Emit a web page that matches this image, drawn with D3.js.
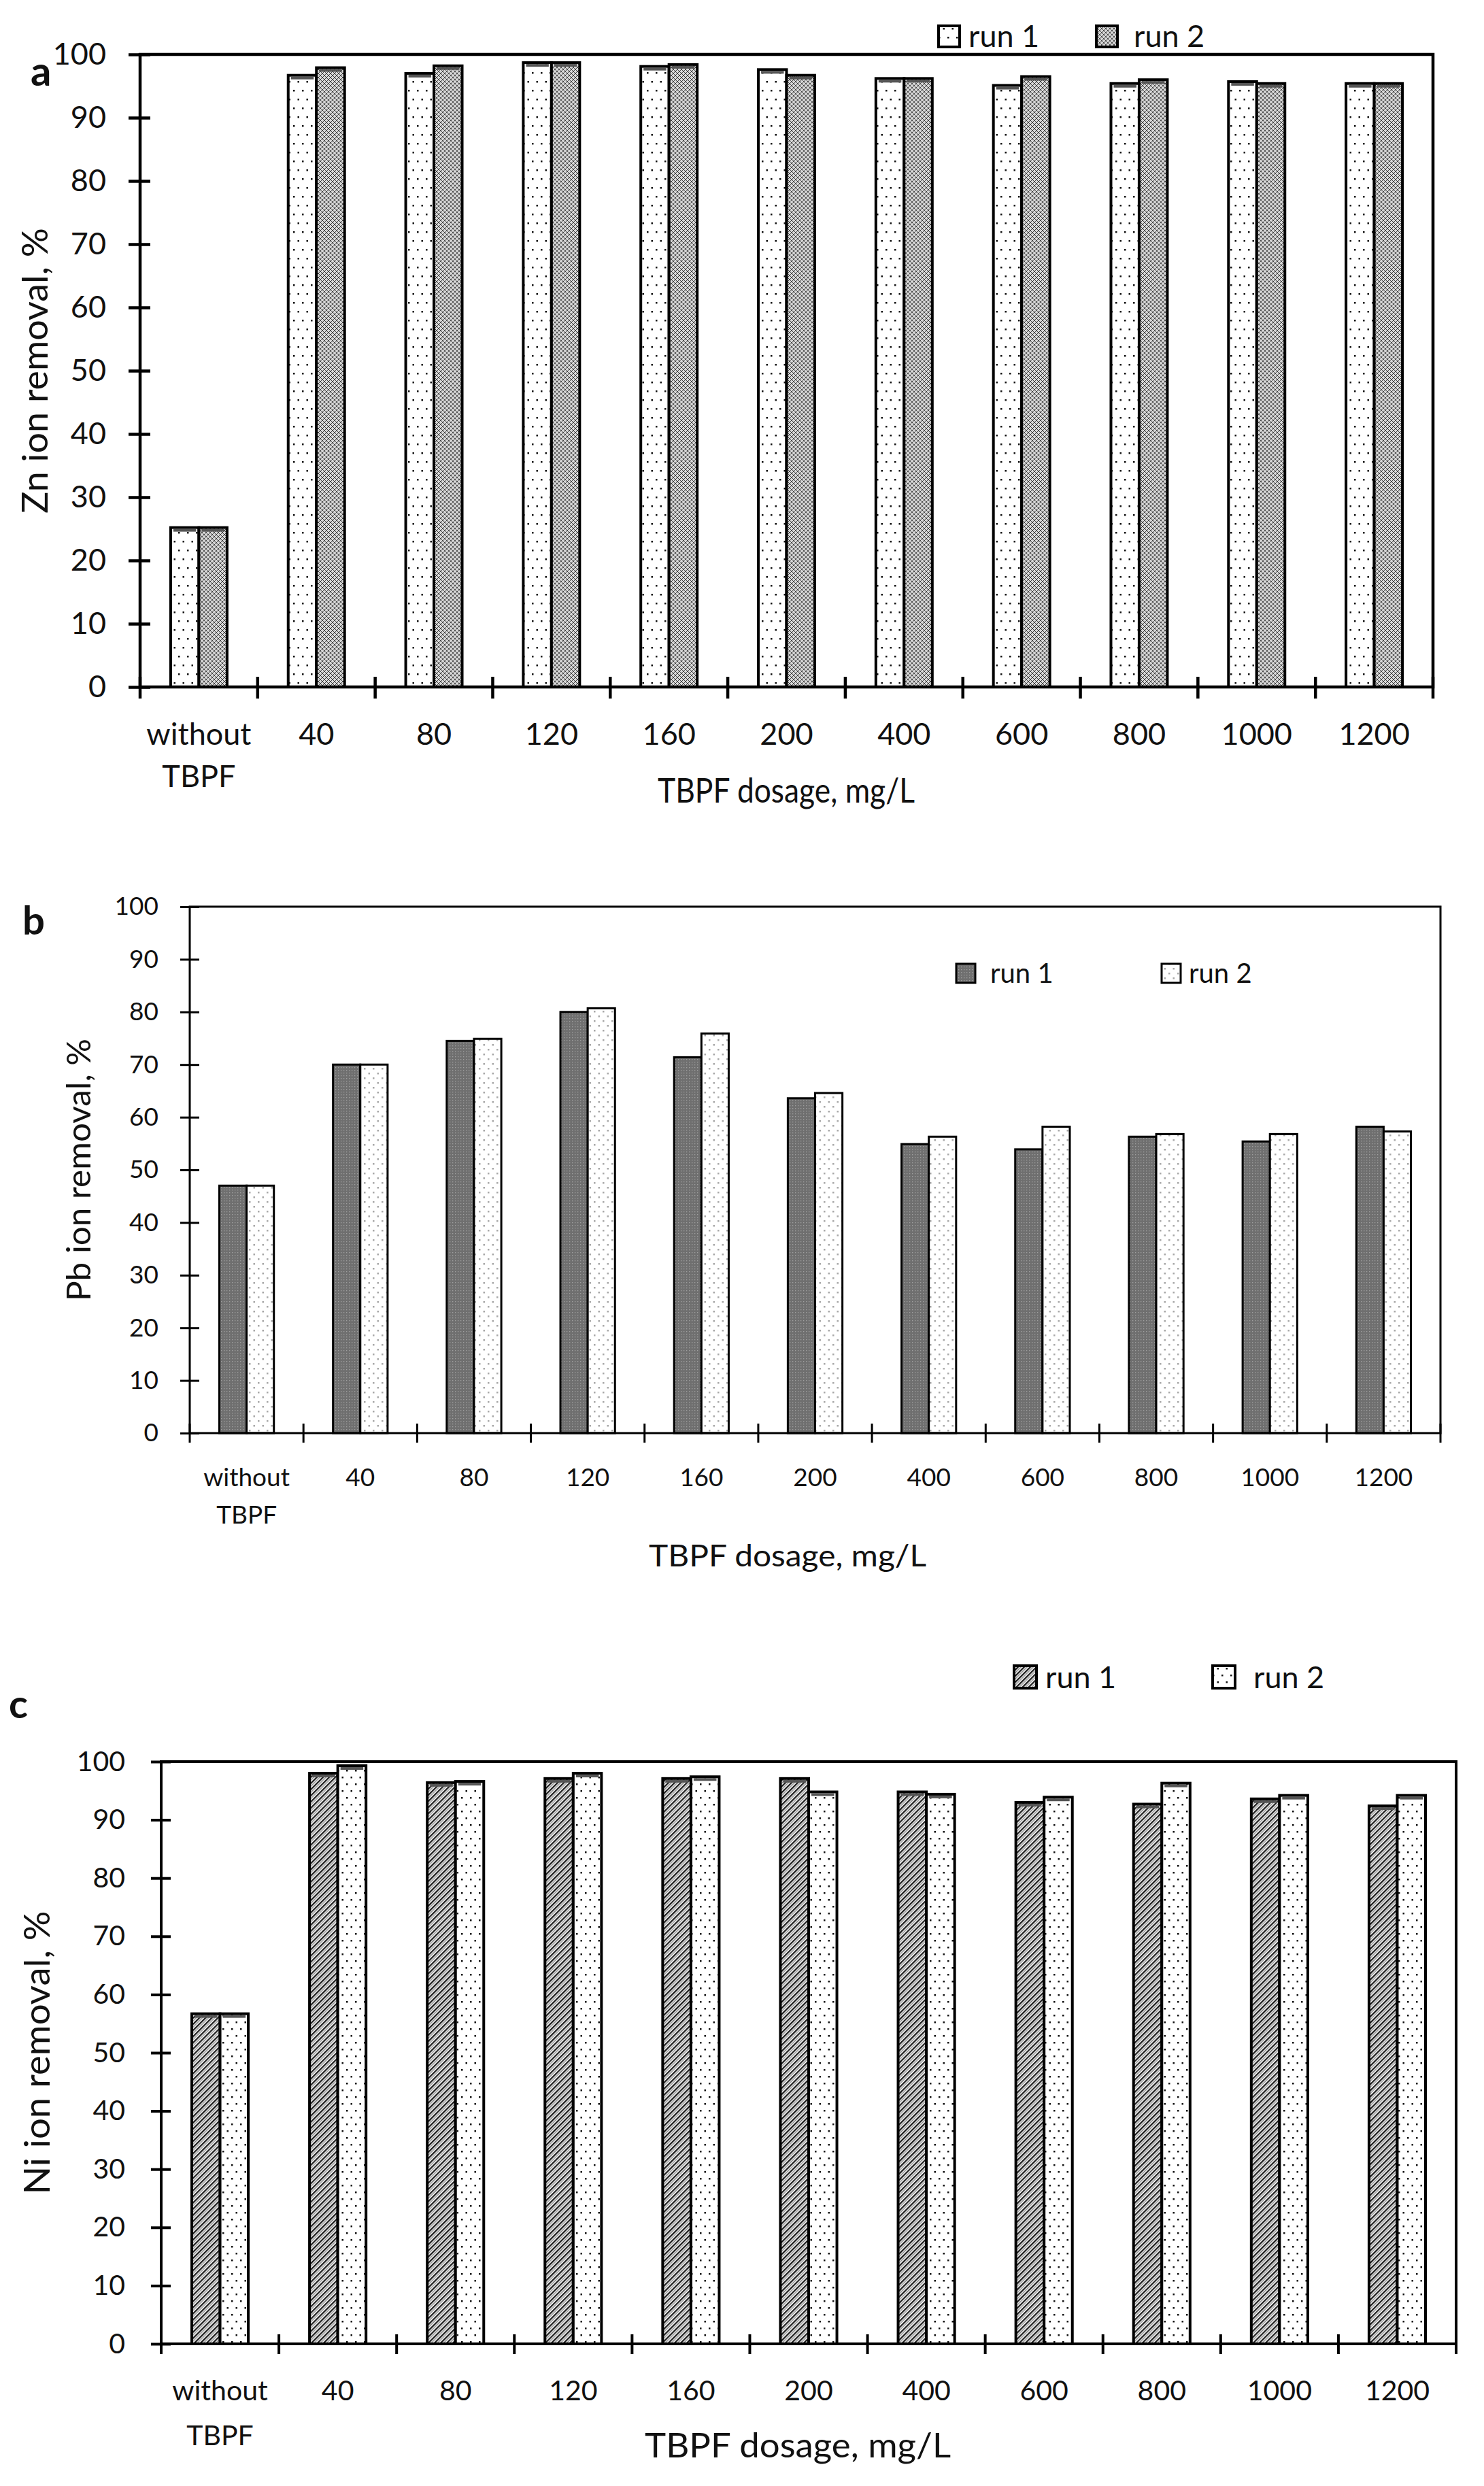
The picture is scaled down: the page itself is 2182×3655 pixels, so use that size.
<!DOCTYPE html>
<html>
<head>
<meta charset="utf-8">
<script src="https://cdn.jsdelivr.net/npm/d3@7"></script>
<style>
  body { margin: 0; background: #fff; }
  svg text { font-family: Lato, "Open Sans", sans-serif; fill: #111; }
</style>
</head>
<body>
<script>
// categories and tick values shared by the three panels
var categories = ["without TBPF", "40", "80", "120", "160", "200", "400", "600", "800", "1000", "1200"];
var yTicks = [0, 10, 20, 30, 40, 50, 60, 70, 80, 90, 100];
var seriesNames = ["run 1", "run 2"];

// (a) Zn
var znRun1 = [25.2, 96.7, 97.0, 98.7, 98.1, 97.6, 96.2, 95.1, 95.4, 95.7, 95.4];
var znRun2 = [25.2, 97.9, 98.2, 98.7, 98.4, 96.7, 96.2, 96.5, 96.0, 95.4, 95.4];
// (b) Pb
var pbRun1 = [47.0, 70.0, 74.5, 80.0, 71.4, 63.6, 54.9, 53.9, 56.3, 55.4, 58.2];
var pbRun2 = [47.0, 70.0, 74.9, 80.7, 75.9, 64.6, 56.3, 58.2, 56.8, 56.8, 57.3];
// (c) Ni
var niRun1 = [56.7, 98.0, 96.4, 97.1, 97.1, 97.1, 94.8, 93.0, 92.7, 93.6, 92.4];
var niRun2 = [56.7, 99.3, 96.6, 98.0, 97.4, 94.8, 94.4, 93.9, 96.3, 94.2, 94.2];

var svg = d3.select("body").append("svg")
  .attr("width", 2182)
  .attr("height", 3655);

// fill patterns (excel style)
var defs = svg.append("defs");

function dotPattern(id, dotColor, w, h) {
  var p = defs.append("pattern").attr("id", id)
    .attr("patternUnits", "userSpaceOnUse").attr("width", w).attr("height", h);
  p.append("rect").attr("width", w).attr("height", h).attr("fill", "#fff");
  p.append("rect").attr("x", 2).attr("y", 2).attr("width", 2.5).attr("height", 2.5).attr("fill", dotColor);
  p.append("rect").attr("x", w / 2 + 2).attr("y", h / 2 + 2).attr("width", 2.5).attr("height", 2.5).attr("fill", dotColor);
}
dotPattern("dotsA", "#111", 13, 26);
dotPattern("dotsB", "#a8a8a8", 13, 14);
dotPattern("dotsC", "#111", 13, 20);

// dense cross hatch, panel a run 2
var pc = defs.append("pattern").attr("id", "crossA")
  .attr("patternUnits", "userSpaceOnUse").attr("width", 6).attr("height", 6);
pc.append("rect").attr("width", 6).attr("height", 6).attr("fill", "#d6d6d6");
pc.append("path").attr("d", "M0,0L6,6M6,0L0,6").attr("stroke", "#3a3a3a").attr("stroke-width", 0.9);

// dark dotted grey, panel b run 1
var pg = defs.append("pattern").attr("id", "greyB")
  .attr("patternUnits", "userSpaceOnUse").attr("width", 4).attr("height", 4);
pg.append("rect").attr("width", 4).attr("height", 4).attr("fill", "#6f6f6f");
pg.append("rect").attr("x", 1).attr("y", 1).attr("width", 1.3).attr("height", 1.3).attr("fill", "#a0a0a0");

// diagonal hatch, panel c run 1
var ph = defs.append("pattern").attr("id", "hatchC")
  .attr("patternUnits", "userSpaceOnUse").attr("width", 6.4).attr("height", 6.4)
  .attr("patternTransform", "rotate(45)");
ph.append("rect").attr("width", 6.4).attr("height", 6.4).attr("fill", "#fff");
ph.append("line").attr("x1", 1.2).attr("x2", 1.2).attr("y1", 0).attr("y2", 6.4)
  .attr("stroke", "#111").attr("stroke-width", 2.2);
ph.append("line").attr("x1", 4.2).attr("x2", 4.2).attr("y1", 0).attr("y2", 6.4)
  .attr("stroke", "#8a8a8a").attr("stroke-width", 1.4);

var panels = [
  {
    tag: "a", values: [znRun1, znRun2], fills: ["url(#dotsA)", "url(#crossA)"],
    left: 206, right: 2107, top: 80, bottom: 1010,
    lw: 4.5, barLw: 4, cap: true,
    tickFont: 45, tickGap: 50, tickLen: [17, 15],
    xLab: 85, xLab2: 62,
    title: "TBPF dosage, mg/L", titleX: 1156, titleY: 1180, titleFont: 50, titleLen: 378,
    yTitle: "Zn ion removal, %", yTitleX: 52, yTitleFont: 52, yTitleLen: 420,
    tagX: 45, tagY: 126, tagFont: 60,
    legend: { y: 38, box: 31, items: [[1380, 1424], [1612, 1667]], font: 45 }
  },
  {
    tag: "b", values: [pbRun1, pbRun2], fills: ["url(#greyB)", "url(#dotsB)"],
    left: 279, right: 2118, top: 1333, bottom: 2107,
    lw: 3, barLw: 3, cap: false,
    tickFont: 37, tickGap: 46, tickLen: [14, 14],
    xLab: 78, xLab2: 55,
    title: "TBPF dosage, mg/L", titleX: 1158, titleY: 2303, titleFont: 45, titleLen: 408,
    yTitle: "Pb ion removal, %", yTitleX: 116, yTitleFont: 48, yTitleLen: 386,
    tagX: 33, tagY: 1374, tagFont: 58,
    legend: { y: 1417, box: 28, items: [[1406, 1456], [1708, 1748]], font: 40 }
  },
  {
    tag: "c", values: [niRun1, niRun2], fills: ["url(#hatchC)", "url(#dotsC)"],
    left: 237, right: 2141, top: 2590, bottom: 3446,
    lw: 4, barLw: 4, cap: true,
    tickFont: 41, tickGap: 53, tickLen: [15, 14],
    xLab: 83, xLab2: 66,
    title: "TBPF dosage, mg/L", titleX: 1173, titleY: 3613, titleFont: 50, titleLen: 450,
    yTitle: "Ni ion removal, %", yTitleX: 55, yTitleFont: 52, yTitleLen: 417,
    tagX: 13, tagY: 2526, tagFont: 58,
    legend: { y: 2449, box: 33, items: [[1491, 1537], [1783, 1843]], font: 45 }
  }
];

panels.forEach(function(p) {
  var x = d3.scaleBand().domain(categories).range([p.left, p.right]);
  var y = d3.scaleLinear().domain([0, 100]).range([p.bottom, p.top]);
  var band = x.bandwidth();
  var sub = d3.scaleBand().domain([0, 1]).range([band * 0.26, band * 0.74]);

  var g = svg.append("g");

  // bars
  p.values.forEach(function(vals, s) {
    var bars = g.append("g");
    bars.selectAll("rect.bar").data(vals).enter().append("rect")
      .attr("class", "bar")
      .attr("x", function(d, i) { return x(categories[i]) + sub(s); })
      .attr("y", function(d) { return y(d); })
      .attr("width", sub.bandwidth())
      .attr("height", function(d) { return y(0) - y(d); })
      .attr("fill", p.fills[s])
      .attr("stroke", "#000")
      .attr("stroke-width", p.barLw);
    if (p.cap) {
      // dark band just under the top edge of each bar
      bars.selectAll("rect.cap").data(vals).enter().append("rect")
        .attr("class", "cap")
        .attr("x", function(d, i) { return x(categories[i]) + sub(s) + p.barLw / 2 + 2; })
        .attr("y", function(d) { return y(d) + p.barLw / 2; })
        .attr("width", sub.bandwidth() - p.barLw - 4)
        .attr("height", 4)
        .attr("fill", "#555");
    }
  });

  // frame
  g.append("rect")
    .attr("x", p.left).attr("y", p.top)
    .attr("width", p.right - p.left).attr("height", p.bottom - p.top)
    .attr("fill", "none").attr("stroke", "#000").attr("stroke-width", p.lw);

  // y axis
  var yAxis = d3.axisLeft(y).tickValues(yTicks).tickSizeInner(0).tickSizeOuter(0).tickPadding(p.tickGap);
  var ya = g.append("g").attr("transform", "translate(" + p.left + ",0)").call(yAxis);
  ya.select(".domain").remove();
  ya.selectAll(".tick line")
    .attr("x1", -p.tickLen[0]).attr("x2", p.tickLen[1])
    .attr("stroke", "#000").attr("stroke-width", p.lw);
  ya.selectAll(".tick text").attr("font-size", p.tickFont).attr("font-family", "Lato");

  // x axis: ticks on category boundaries
  var edges = categories.map(function(c) { return x(c); }).concat([p.right]);
  g.selectAll("line.xt").data(edges).enter().append("line")
    .attr("x1", function(d) { return d; }).attr("x2", function(d) { return d; })
    .attr("y1", p.bottom - p.tickLen[1]).attr("y2", p.bottom + p.tickLen[0])
    .attr("stroke", "#000").attr("stroke-width", p.lw);

  var xAxis = d3.axisBottom(x).tickSize(0).tickPadding(0);
  var xa = g.append("g").attr("transform", "translate(0," + p.bottom + ")").call(xAxis);
  xa.select(".domain").remove();
  xa.selectAll(".tick text").each(function(d) {
    var t = d3.select(this).text("").attr("dy", null).attr("y", p.xLab)
      .attr("font-size", p.tickFont).attr("font-family", "Lato");
    d.split(" ").forEach(function(w, k) {
      t.append("tspan").attr("x", 0).attr("y", p.xLab + k * p.xLab2).text(w);
    });
  });

  // axis titles
  g.append("text")
    .attr("x", p.titleX).attr("y", p.titleY)
    .attr("text-anchor", "middle").attr("font-size", p.titleFont)
    .attr("textLength", p.titleLen).attr("lengthAdjust", "spacingAndGlyphs")
    .text(p.title);
  g.append("text")
    .attr("transform", "translate(" + p.yTitleX + "," + (p.top + p.bottom) / 2 + ") rotate(-90)")
    .attr("text-anchor", "middle").attr("dy", "0.35em").attr("font-size", p.yTitleFont)
    .attr("textLength", p.yTitleLen).attr("lengthAdjust", "spacingAndGlyphs")
    .text(p.yTitle);

  // panel letter
  g.append("text")
    .attr("x", p.tagX).attr("y", p.tagY)
    .attr("font-family", "Liberation Sans, Arial, sans-serif")
    .attr("font-weight", "bold").attr("font-size", p.tagFont)
    .text(p.tag);

  // legend
  var lg = g.append("g");
  p.legend.items.forEach(function(it, s) {
    lg.append("rect")
      .attr("x", it[0]).attr("y", p.legend.y)
      .attr("width", p.legend.box).attr("height", p.legend.box)
      .attr("fill", p.fills[s]).attr("stroke", "#000").attr("stroke-width", p.barLw);
    lg.append("text")
      .attr("x", it[1]).attr("y", p.legend.y + p.legend.box)
      .attr("font-size", p.legend.font)
      .text(seriesNames[s]);
  });
});
</script>
</body>
</html>
